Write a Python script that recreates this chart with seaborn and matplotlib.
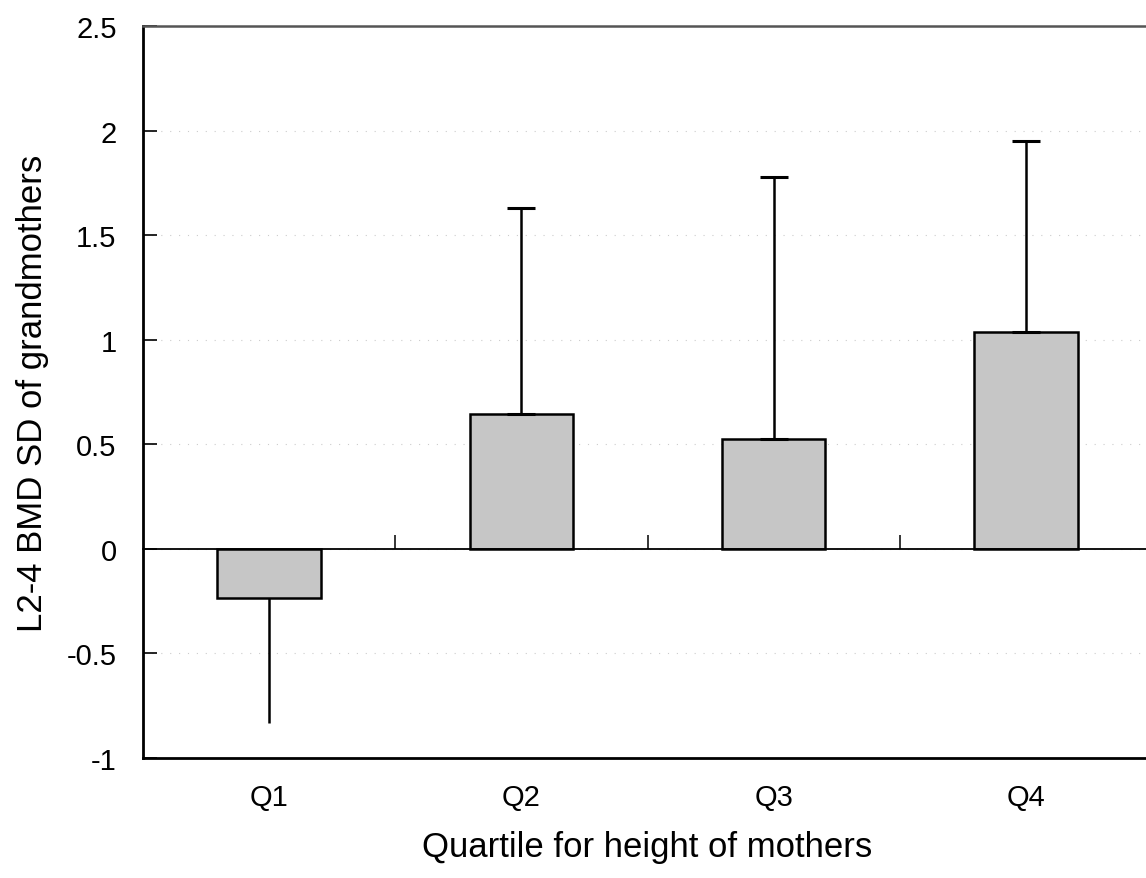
import matplotlib
matplotlib.use("Agg")
import matplotlib.pyplot as plt
import seaborn as sns
import pandas as pd
import numpy as np
from matplotlib.ticker import FuncFormatter

categories = ["Q1", "Q2", "Q3", "Q4"]
values = [-0.235, 0.645, 0.525, 1.035]
errors = [0.60, 0.985, 1.255, 0.915]
yticks = [-1, -0.5, 0, 0.5, 1, 1.5, 2, 2.5]

sns.set_style("white")
plt.rcParams["font.family"] = ["Liberation Sans", "DejaVu Sans"]
plt.rcParams["axes.unicode_minus"] = False

df = pd.DataFrame({"quartile": categories, "value": values})

fig = plt.figure(figsize=(11.46, 8.79), dpi=100)
ax = fig.add_axes([143 / 1146, 120 / 879, (1152 - 143) / 1146, (759 - 27) / 879])

sns.barplot(data=df, x="quartile", y="value", color="#c6c6c6", width=0.41,
            edgecolor="black", linewidth=1.8, saturation=1, ax=ax, zorder=3)

# one-sided error bars
xs = np.arange(len(categories))
vals = np.array(values)
errs = np.array(errors)
neg = vals < 0
pos = ~neg
ax.errorbar(xs[pos], vals[pos], yerr=[np.zeros(pos.sum()), errs[pos]], fmt="none",
            ecolor="black", elinewidth=1.8, capsize=10, capthick=2.2, zorder=4)
ax.errorbar(xs[neg], vals[neg], yerr=[errs[neg], np.zeros(neg.sum())], fmt="none",
            ecolor="black", elinewidth=1.8, capsize=0, zorder=4)

ax.set_xlim(-0.5, 3.5)
ax.set_ylim(-1, 2.5)
ax.set_yticks(yticks)
ax.yaxis.set_major_formatter(FuncFormatter(lambda v, p: f"{v:g}"))
ax.grid(axis="y", linestyle=(0, (1, 7)), color="#cccccc", linewidth=0.8, zorder=0)
ax.set_axisbelow(True)

ax.tick_params(axis="y", direction="in", length=10, width=1.2, labelsize=21, pad=19,
               left=True, colors="black")
ax.tick_params(axis="x", length=0, labelsize=21, pad=18, colors="black")

ax.set_xlabel("Quartile for height of mothers", fontsize=25, labelpad=14, color="black")
ax.set_ylabel("L2-4 BMD SD of grandmothers", fontsize=25, labelpad=13, color="black")

for s in ["left", "bottom"]:
    ax.spines[s].set_color("black")
    ax.spines[s].set_linewidth(2.0)
ax.spines["top"].set_color("#555555")
ax.spines["top"].set_linewidth(1.8)
ax.spines["right"].set_visible(False)

# zero line with category-boundary ticks
ax2 = ax.twiny()
ax2.set_xlim(ax.get_xlim())
ax2.spines["bottom"].set_position(("data", 0))
for s in ["top", "left", "right"]:
    ax2.spines[s].set_visible(False)
ax2.spines["bottom"].set_color("black")
ax2.spines["bottom"].set_linewidth(1.3)
ax2.xaxis.set_ticks_position("bottom")
ax2.set_xticks([0.5, 1.5, 2.5])
ax2.tick_params(axis="x", direction="in", length=10, width=1.3, labelbottom=False,
                labeltop=False, top=False)
ax2.set_zorder(ax.get_zorder() + 1)
ax2.patch.set_visible(False)

fig.savefig("out.png", dpi=100)
